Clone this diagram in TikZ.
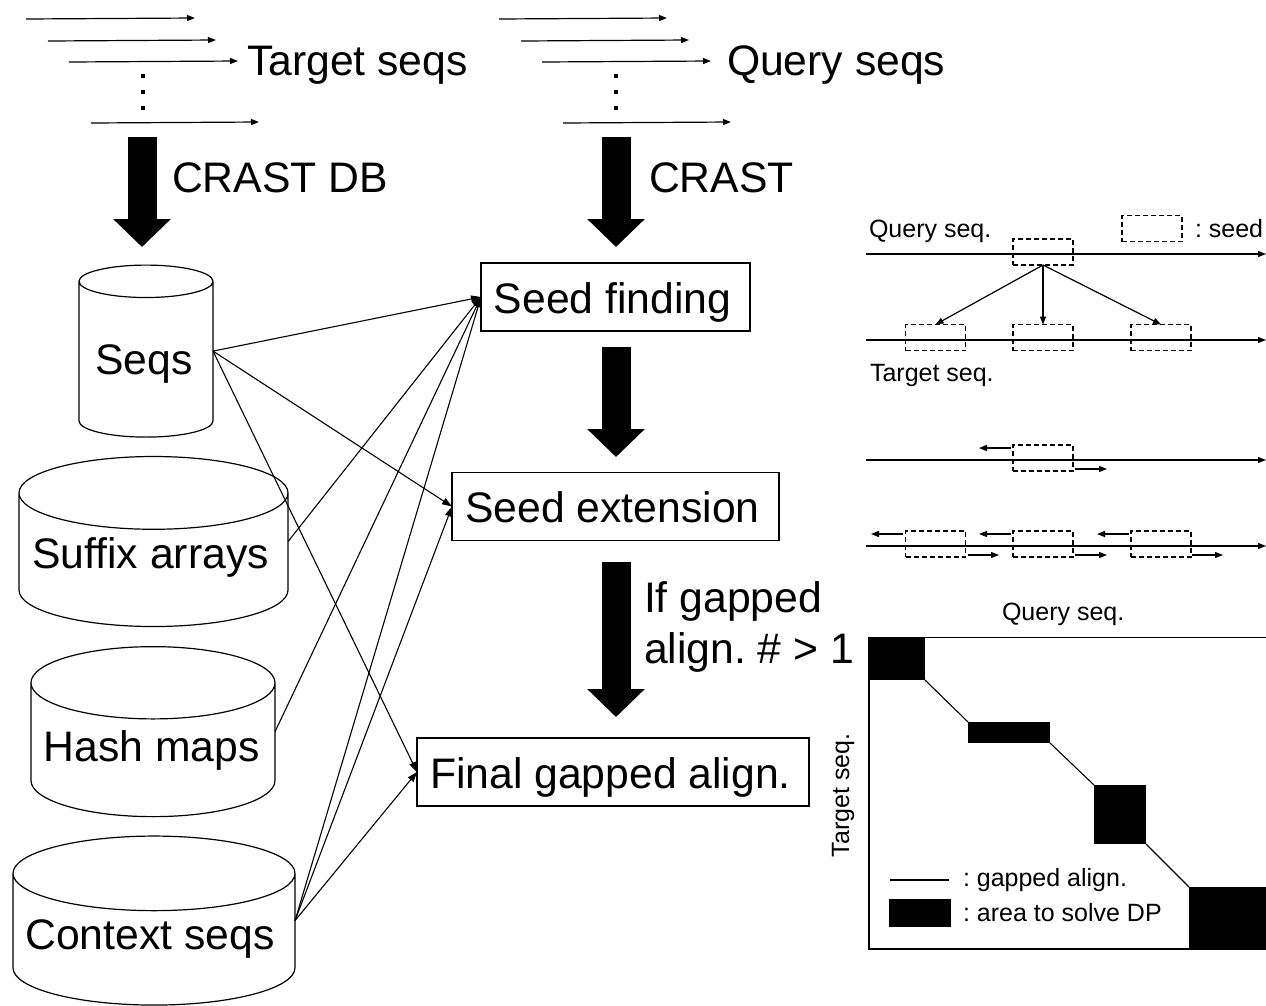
\documentclass[tikz,border=0pt]{standalone}
\usepackage{fontspec}
\setmainfont{Liberation Sans}
\frenchspacing
\usetikzlibrary{arrows.meta,shapes.geometric}

\tikzset{
  bigfont/.style={font=\fontsize{42.7}{50}\selectfont},
  smallfont/.style={font=\fontsize{25}{30}\selectfont},
  textlabel/.style={anchor=base west, inner sep=0pt, outer sep=0pt},
  stepbox/.style={draw, line width=1.2pt, bigfont, inner sep=0pt, outer sep=0pt, minimum height=68pt, text height=32pt, text depth=0pt},
  dbcyl/.style={draw, line width=1.2pt, bigfont, cylinder, shape border rotate=90, inner sep=0pt, outer sep=0pt},
  seedbox/.style={draw, line width=1.1pt, dash pattern=on 5pt off 3pt, inner sep=0pt, outer sep=0pt, minimum width=60pt, minimum height=26pt},
  dparea/.style={fill=black, inner sep=0pt, outer sep=0pt},
  seqline/.style={line width=1.2pt, -{Triangle[length=8pt,width=6pt]}},
  link/.style={line width=1.1pt, -{Triangle[length=10pt,width=7pt]}},
  bigarrow/.style={line width=29pt, -{Triangle[length=28pt,width=56pt]}},
}

\begin{document}
\begin{tikzpicture}[x=1pt, y=-1pt]
  \useasboundingbox (0,0) rectangle (1266,1005);

  % input sequences
  \path
    coordinate (ta1) at (26,19)   coordinate (tb1) at (195,18)
    coordinate (ta2) at (48,41)   coordinate (tb2) at (216,40)
    coordinate (ta3) at (69,62)   coordinate (tb3) at (238,61)
    coordinate (ta4) at (91,123)  coordinate (tb4) at (259,122)
    coordinate (qa1) at (499,19)  coordinate (qb1) at (667,18)
    coordinate (qa2) at (521,41)  coordinate (qb2) at (689,40)
    coordinate (qa3) at (542,62)  coordinate (qb3) at (711,61)
    coordinate (qa4) at (563,123) coordinate (qb4) at (731,122)
  ;
  \foreach \i in {1,2,3,4} {
    \draw[seqline] (ta\i) -- (tb\i);
    \draw[seqline] (qa\i) -- (qb\i);
  }
  \foreach \x in {143,616} {
    \foreach \y in {76,92,108} {
      \fill (\x-2,\y-2) rectangle (\x+2,\y+2);
    }
  }
  \node[textlabel, bigfont] (targetseqs) at (247,75) {Target seqs};
  \node[textlabel, bigfont] (queryseqs) at (727,75) {Query seqs};

  % big arrows
  \path
    coordinate (dbtop) at (142,137)   coordinate (dbend) at (142,247)
    coordinate (crtop) at (616,137)   coordinate (crend) at (616,247)
    coordinate (sftop) at (616,347)   coordinate (sfend) at (616,457)
    coordinate (setop) at (616,562)   coordinate (seend) at (616,717)
  ;
  \draw[bigarrow] (dbtop) -- (dbend);
  \draw[bigarrow] (crtop) -- (crend);
  \draw[bigarrow] (sftop) -- (sfend);
  \draw[bigarrow] (setop) -- (seend);
  \node[textlabel, bigfont] (crastdb) at (172,192) {CRAST DB};
  \node[textlabel, bigfont] (crast) at (649,192) {CRAST};
  \node[textlabel, bigfont] (ifgapped) at (644,612) {If gapped};
  \node[textlabel, bigfont] (aligncount) at (644,663) {align. \# > 1};

  % databases
  \node[dbcyl, aspect=0.32, minimum width=134pt, minimum height=172pt, text height=31pt, text depth=2pt] (seqs) at (146,359.5) {Seqs\hspace*{4pt}};
  \node[dbcyl, aspect=0.30, minimum width=269pt, minimum height=170pt, text height=31pt, text depth=15pt] (suffix) at (153.5,560) {Suffix arrays\hspace*{6pt}};
  \node[dbcyl, aspect=0.33, minimum width=244pt, minimum height=170pt] (hash) at (153,750) {Hash maps\hspace*{3pt}};
  \node[dbcyl, aspect=0.29, minimum width=282pt, minimum height=169pt] (context) at (154,939.5) {Context seqs\hspace*{8pt}};
  \coordinate (seqsout) at (seqs.east |- seqs.shape center);
  \coordinate (suffixout) at (suffix.east |- suffix.shape center);
  \coordinate (hashout) at (hash.east |- hash.shape center);
  \coordinate (contextout) at (context.east |- context.shape center);

  % steps
  \node[stepbox, minimum width=269pt] (seedfind) at (615.5,297) {Seed finding\hspace*{6pt}};
  \node[stepbox, minimum width=327pt] (seedext) at (615.5,506.5) {Seed extension\hspace*{6pt}};
  \node[stepbox, minimum width=392pt] (finalalign) at (613,772) {Final gapped align.\hspace*{5pt}};

  \draw[link] (seqsout) -- (seedfind.west);
  \draw[link] (seqsout) -- (seedext.west);
  \draw[link] (seqsout) -- (finalalign.west);
  \draw[link] (suffixout) -- (seedfind.west);
  \draw[link] (hashout) -- (seedfind.west);
  \draw[link] (contextout) -- (seedfind.west);
  \draw[link] (contextout) -- (seedext.west);
  \draw[link] (contextout) -- (finalalign.west);

  % seeds panel
  \path
    coordinate (la) at (866,254) coordinate (lb) at (1266,254)
    coordinate (lc) at (866,340) coordinate (ld) at (1266,340)
    coordinate (le) at (866,460) coordinate (lf) at (1266,460)
    coordinate (lg) at (866,546) coordinate (lh) at (1266,546)
  ;
  \draw[seqline] (la) -- (lb);
  \draw[seqline] (lc) -- (ld);
  \draw[seqline] (le) -- (lf);
  \draw[seqline] (lg) -- (lh);

  \node[seedbox] (legendseed) at (1152,228.5) {};
  \node[seedbox] (qseed) at (1043,252) {};
  \node[seedbox] (tseeda) at (935.5,337.5) {};
  \node[seedbox] (tseedb) at (1043,337.5) {};
  \node[seedbox] (tseedc) at (1161,337.5) {};
  \node[seedbox] (extseed) at (1043,458) {};
  \node[seedbox] (gseeda) at (935.5,544) {};
  \node[seedbox] (gseedb) at (1043,544) {};
  \node[seedbox] (gseedc) at (1161,544) {};

  \draw[seqline] (qseed.south) -- (tseeda.north);
  \draw[seqline] (qseed.south) -- (tseedb.north);
  \draw[seqline] (qseed.south) -- (tseedc.north);

  \path
    coordinate (el1) at (1011,448) coordinate (el2) at (979,448)
    coordinate (er1) at (1075,469) coordinate (er2) at (1107,469)
    coordinate (al1) at (903,534)  coordinate (al2) at (871,534)
    coordinate (ar1) at (968,555)  coordinate (ar2) at (999,555)
    coordinate (bl1) at (1011,534) coordinate (bl2) at (979,534)
    coordinate (br1) at (1075,555) coordinate (br2) at (1107,555)
    coordinate (cl1) at (1129,534) coordinate (cl2) at (1097,534)
    coordinate (cr1) at (1192,555) coordinate (cr2) at (1223,555)
  ;
  \foreach \e in {el,er,al,ar,bl,br,cl,cr} {
    \draw[seqline] (\e1) -- (\e2);
  }

  \node[textlabel, smallfont] (queryseqa) at (869,237) {Query seq.};
  \node[textlabel, smallfont] (seedtext) at (1195,237) {: seed};
  \node[textlabel, smallfont] (targetseqa) at (870,381) {Target seq.};

  % DP panel
  \draw[line width=1.2pt] (1266,637.5) -- (869,637.5) -- (869,949) -- (1266,949);
  \node[textlabel, smallfont] (queryseqb) at (1002,620) {Query seq.};
  \node[textlabel, smallfont, rotate=90] (targetseqb) at (849,857) {Target seq.};

  \node[dparea, minimum width=56pt, minimum height=43pt] (dpa) at (897,658.5) {};
  \node[dparea, minimum width=82pt, minimum height=21pt] (dpb) at (1009,732.5) {};
  \node[dparea, minimum width=52pt, minimum height=59pt] (dpc) at (1120,814.5) {};
  \node[dparea, minimum width=77pt, minimum height=62pt] (dpd) at (1227.5,918) {};
  \draw[line width=1.1pt] (dpa.south east) -- (dpb.north west);
  \draw[line width=1.1pt] (dpb.south east) -- (dpc.north west);
  \draw[line width=1.1pt] (dpc.south east) -- (dpd.north west);

  % legend
  \path coordinate (lega) at (890,880) coordinate (legb) at (949,880);
  \draw[line width=1.2pt] (lega) -- (legb);
  \node[dparea, minimum width=62pt, minimum height=28pt] (legdp) at (920,913) {};
  \node[textlabel, smallfont] (gappedtext) at (963,886) {: gapped align.};
  \node[textlabel, smallfont] (dptext) at (963,921) {: area to solve DP};
\end{tikzpicture}
\end{document}
